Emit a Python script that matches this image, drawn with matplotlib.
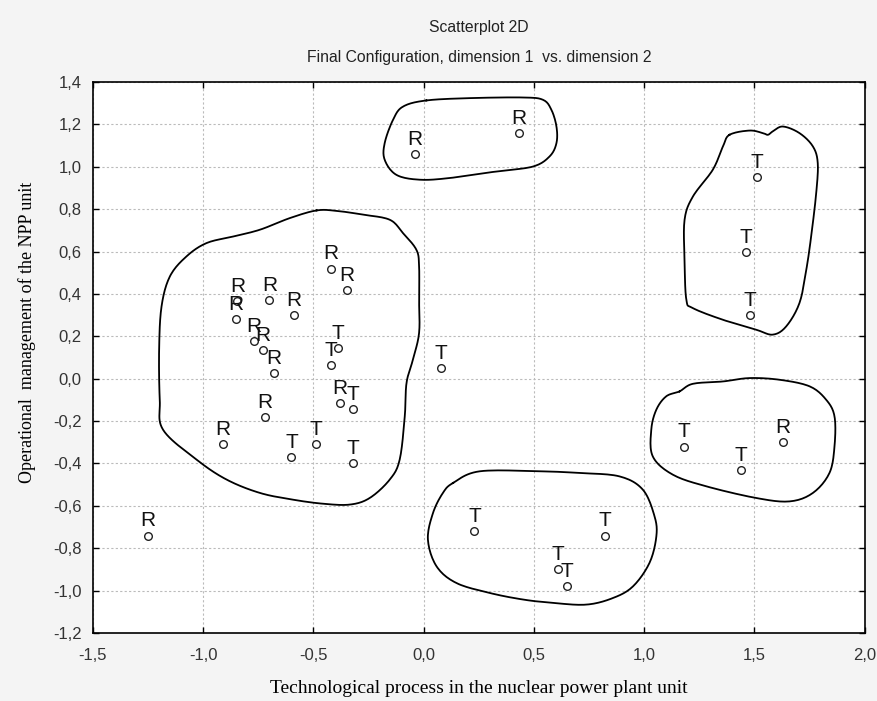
import matplotlib
matplotlib.use('Agg')
from matplotlib import pyplot as plt
from matplotlib.ticker import FuncFormatter, MultipleLocator
import numpy as np

# point labels and coordinates (dimension 1, dimension 2)
labels = ['R', 'R', 'R', 'T', 'T', 'T', 'T', 'T', 'T', 'R', 'T', 'T', 'T', 'T',
          'R', 'R', 'R', 'R', 'R', 'R', 'R', 'R', 'R', 'T', 'T', 'R', 'T', 'R', 'R',
          'T', 'T', 'T']
dim1 = [-1.25, -0.04, 0.43, 1.51, 1.46, 1.48, 0.08, 1.18, 1.44, 1.63, 0.23, 0.82, 0.61, 0.65,
        -0.42, -0.35, -0.70, -0.59, -0.845, -0.85, -0.77, -0.73, -0.68, -0.39, -0.42, -0.38, -0.32,
        -0.72, -0.91, -0.49, -0.60, -0.32]
dim2 = [-0.74, 1.06, 1.16, 0.95, 0.60, 0.30, 0.05, -0.32, -0.43, -0.30, -0.72, -0.74, -0.90, -0.98,
        0.52, 0.42, 0.37, 0.30, 0.365, 0.28, 0.18, 0.135, 0.025, 0.145, 0.065, -0.115, -0.145,
        -0.18, -0.31, -0.31, -0.37, -0.40]

# hand drawn group outlines (in data units)
big_group = [(-0.486, 0.794), (-0.396, 0.792), (-0.275, 0.774), (-0.154, 0.75), (-0.094, 0.687),
             (-0.033, 0.608), (-0.021, 0.530), (-0.021, 0.373), (-0.021, 0.216), (-0.049, 0.090),
             (-0.078, -0.020), (-0.086, -0.178), (-0.109, -0.382), (-0.154, -0.476), (-0.245, -0.563),
             (-0.335, -0.594), (-0.456, -0.590), (-0.592, -0.571), (-0.743, -0.539), (-0.894, -0.476),
             (-1.030, -0.382), (-1.182, -0.241), (-1.197, -0.099), (-1.200, 0.137), (-1.189, 0.341),
             (-1.151, 0.483), (-1.076, 0.577), (-0.985, 0.640), (-0.864, 0.671), (-0.743, 0.703),
             (-0.607, 0.758)]
top_group = [(0.012, 1.313), (0.209, 1.324), (0.450, 1.327), (0.541, 1.316), (0.579, 1.269),
             (0.602, 1.190), (0.602, 1.112), (0.571, 1.049), (0.495, 1.001), (0.330, 0.978),
             (0.118, 0.947), (-0.018, 0.939), (-0.124, 0.962), (-0.177, 1.033), (-0.177, 1.112),
             (-0.139, 1.222), (-0.094, 1.284)]
upper_right_group = [(1.387, 1.151), (1.478, 1.171), (1.538, 1.159), (1.561, 1.151), (1.583, 1.167),
                     (1.629, 1.190), (1.704, 1.159), (1.765, 1.096), (1.787, 1.017), (1.780, 0.876),
                     (1.757, 0.671), (1.735, 0.514), (1.704, 0.357), (1.644, 0.247), (1.583, 0.208),
                     (1.508, 0.231), (1.357, 0.278), (1.221, 0.333), (1.191, 0.373), (1.183, 0.561),
                     (1.183, 0.750), (1.221, 0.860), (1.311, 0.986), (1.357, 1.096)]
lower_right_group = [(1.160, -0.060), (1.221, -0.024), (1.357, -0.013), (1.478, 0.003), (1.614, -0.005),
                     (1.750, -0.036), (1.825, -0.099), (1.863, -0.178), (1.863, -0.319), (1.840, -0.445),
                     (1.765, -0.539), (1.659, -0.579), (1.508, -0.563), (1.282, -0.508), (1.130, -0.453),
                     (1.039, -0.367), (1.032, -0.241), (1.055, -0.146), (1.100, -0.083)]
bottom_group = [(0.133, -0.492), (0.254, -0.437), (0.526, -0.437), (0.707, -0.445), (0.888, -0.461),
                (0.994, -0.524), (1.047, -0.650), (1.055, -0.744), (1.024, -0.869), (0.949, -0.980),
                (0.858, -1.035), (0.738, -1.066), (0.586, -1.058), (0.450, -1.042), (0.299, -1.011),
                (0.148, -0.964), (0.058, -0.885), (0.019, -0.759), (0.042, -0.634), (0.087, -0.539)]


def comma(v, pos):
    return ('%.1f' % v).replace('.', ',')


def outline(ax, pts):
    # closed smooth curve through the points (catmull-rom)
    p = np.array(pts)
    n = len(p)
    xs, ys = [], []
    for i in range(n):
        p0, p1, p2, p3 = p[i - 1], p[i], p[(i + 1) % n], p[(i + 2) % n]
        for t in np.linspace(0, 1, 12, endpoint=False):
            q = 0.5 * ((2 * p1) + (-p0 + p2) * t + (2 * p0 - 5 * p1 + 4 * p2 - p3) * t ** 2
                       + (-p0 + 3 * p1 - 3 * p2 + p3) * t ** 3)
            xs.append(q[0])
            ys.append(q[1])
    xs.append(xs[0])
    ys.append(ys[0])
    ax.plot(xs, ys, color='black', lw=1.3, zorder=2)


fig = plt.figure(figsize=(8.77, 7.01), dpi=100, facecolor='#f4f4f4')
ax = fig.add_axes([0.106, 0.097, 0.880, 0.786])
ax.set_facecolor('white')

ax.plot(dim1, dim2, 'o', ms=5.5, mfc='white', mec='#222222', mew=1.0, zorder=3)
for lab, x, y in zip(labels, dim1, dim2):
    ax.annotate(lab, (x, y), xytext=(0, 6.5), textcoords='offset points',
                ha='center', va='baseline', fontsize=15, family='Liberation Sans',
                color='#111111', zorder=4)

for grp in [big_group, top_group, upper_right_group, lower_right_group, bottom_group]:
    outline(ax, grp)

ax.set_xlim(-1.5, 2.0)
ax.set_ylim(-1.2, 1.4)
ax.xaxis.set_major_locator(MultipleLocator(0.5))
ax.yaxis.set_major_locator(MultipleLocator(0.2))
ax.xaxis.set_major_formatter(FuncFormatter(comma))
ax.yaxis.set_major_formatter(FuncFormatter(comma))
ax.tick_params(direction='in', length=4, width=1, top=True, right=True, labelsize=12)
ax.tick_params(axis='x', pad=11)
ax.tick_params(axis='y', pad=8)
for lb in ax.get_xticklabels() + ax.get_yticklabels():
    lb.set_family('Liberation Sans')
    lb.set_color('#333333')
ax.grid(True, color='#bbbbbb', linestyle=(0, (2, 2)), linewidth=0.8)
for sp in ax.spines.values():
    sp.set_linewidth(1.2)

ax.set_xlabel('Technological process in the nuclear power plant unit',
              family='Liberation Serif', fontsize=14, labelpad=12)
ax.set_ylabel('Operational  management of the NPP unit',
              family='Liberation Serif', fontsize=13)
ax.yaxis.set_label_coords(-0.074, 0.545)

fig.text(0.546, 0.961, 'Scatterplot 2D', ha='center', va='center',
         family='Liberation Sans', fontsize=11.3, color='#222222')
fig.text(0.546, 0.918, 'Final Configuration, dimension 1  vs. dimension 2', ha='center',
         va='center', family='Liberation Sans', fontsize=11.3, color='#222222')

plt.savefig('out.png', dpi=100, facecolor=fig.get_facecolor())
